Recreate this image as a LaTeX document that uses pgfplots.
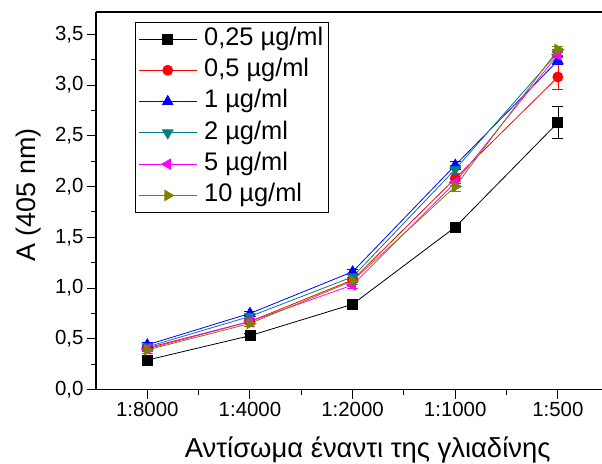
\documentclass[border=0pt]{standalone}
\usepackage{fontspec}
\setmainfont{Liberation Sans}
\usepackage{pgfplots}
\pgfplotsset{compat=1.18}
\definecolor{oteal}{RGB}{0,128,128}
\definecolor{oolive}{RGB}{128,128,0}
\definecolor{omag}{RGB}{255,0,255}
\begin{document}
\begin{tikzpicture}
\begin{axis}[
  name=ax,
  scale only axis,
  width=506bp, height=377.5bp,
  xmin=-0.5, xmax=4.43,
  ymin=0, ymax=3.72,
  axis y line*=left,
  xtick={0,1,2,3,4},
  xticklabels={1:8000,1:4000,1:2000,1:1000,1:500},
  xtick pos=bottom,
  minor xtick={0.5,1.5,2.5,3.5},
  ytick={0,0.5,...,3.5},
  minor ytick={0.25,0.75,...,3.25},
  tick align=outside,
  major tick length=9bp, minor tick length=5bp,
  tick style={line width=1bp, black},
  axis line style={line width=1.2bp},
  tick label style={font=\fontsize{20.5}{24}\selectfont},
  yticklabel style={/pgf/number format/.cd, use comma, fixed, fixed zerofill, precision=1, assume math mode=true},
  xlabel={Αντίσωμα έναντι της γλιαδίνης},
  ylabel={A (405 nm)},
  xlabel style={font=\fontsize{27.5}{31}\selectfont, at={(axis description cs:0.537,-0.160)}, anchor=center},
  ylabel style={font=\fontsize{27}{31}\selectfont, at={(axis description cs:-0.134,0.515)}, anchor=center},
  legend cell align=left,
  legend style={at={(axis description cs:0.077,0.974)}, anchor=north west,
    font=\fontsize{25.5}{29}\selectfont, draw=black, line width=0.8bp,
    inner sep=3bp, row sep=3.8bp,
    nodes={inner sep=2bp, text height=18bp, text depth=5.5bp},
    /tikz/every odd column/.append style={column sep=5bp}},
  legend image code/.code={\draw[mark repeat=2,mark phase=2] plot coordinates {(0bp,0bp)(29bp,0bp)(58bp,0bp)};},
  every axis plot/.append style={line width=0.8bp, mark size=5bp},
  error bars/error mark options={rotate=90, mark size=5.5bp, line width=0.8bp},
]
\addplot[black, mark=square*, error bars/.cd, y dir=both, y explicit] coordinates {
  (0,0.29) +- (0,0.02) (1,0.53) +- (0,0.02) (2,0.84) +- (0,0.03) (3,1.60) +- (0,0.03) (4,2.63) +- (0,0.16)};
\addlegendentry{0,25 µg/ml}
\addplot[red, mark=*, error bars/.cd, y dir=both, y explicit] coordinates {
  (0,0.41) +- (0,0.02) (1,0.67) +- (0,0.02) (2,1.08) +- (0,0.02) (3,2.08) +- (0,0.05) (4,3.08) +- (0,0.12)};
\addlegendentry{0,5 µg/ml}
\addplot[blue, mark=triangle*, mark size=6bp, error bars/.cd, y dir=both, y explicit] coordinates {
  (0,0.44) +- (0,0.02) (1,0.75) +- (0,0.02) (2,1.16) +- (0,0.02) (3,2.21) +- (0,0.04) (4,3.24) +- (0,0.04)};
\addlegendentry{1 µg/ml}
\addplot[oteal, mark=triangle*, mark size=6bp, mark options={rotate=180}, error bars/.cd, y dir=both, y explicit] coordinates {
  (0,0.42) +- (0,0.02) (1,0.72) +- (0,0.02) (2,1.11) +- (0,0.02) (3,2.17) +- (0,0.04) (4,3.32) +- (0,0.03)};
\addlegendentry{2 µg/ml}
\addplot[omag, mark=triangle*, mark size=6bp, mark options={rotate=90}, error bars/.cd, y dir=both, y explicit] coordinates {
  (0,0.40) +- (0,0.02) (1,0.67) +- (0,0.02) (2,1.03) +- (0,0.03) (3,2.04) +- (0,0.03) (4,3.30) +- (0,0.03)};
\addlegendentry{5 µg/ml}
\addplot[oolive, mark=triangle*, mark size=6bp, mark options={rotate=270}, error bars/.cd, y dir=both, y explicit] coordinates {
  (0,0.39) +- (0,0.03) (1,0.65) +- (0,0.03) (2,1.07) +- (0,0.03) (3,2.00) +- (0,0.05) (4,3.35) +- (0,0.03)};
\addlegendentry{10 µg/ml}
\end{axis}
\pgfresetboundingbox
\path ([xshift=-96bp,yshift=-74.5bp]ax.south west) rectangle ([yshift=12bp]ax.north east);
\end{tikzpicture}
\end{document}
